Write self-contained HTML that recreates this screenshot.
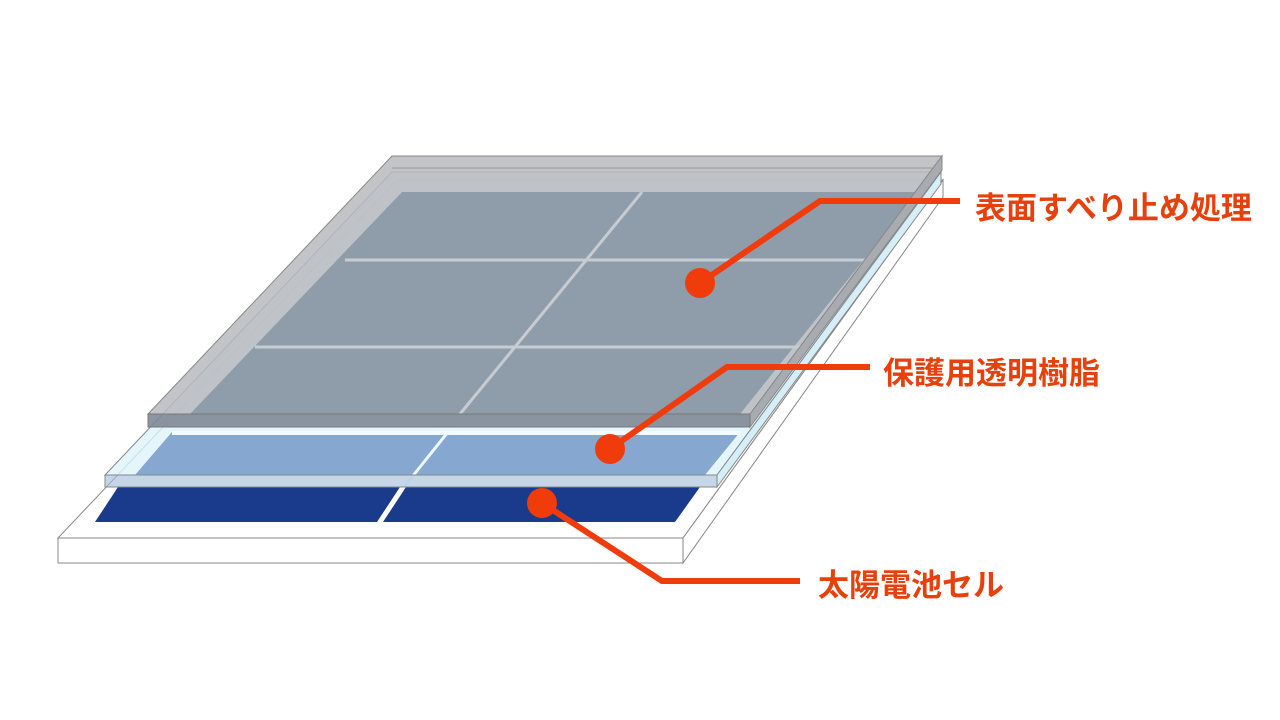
<!DOCTYPE html>
<html><head><meta charset="utf-8"><style>
body{margin:0;background:#fff;width:1280px;height:720px;overflow:hidden}
svg{display:block}
text{font-family:"Liberation Sans","Noto Sans CJK JP",sans-serif;font-weight:bold;fill:#e8400c;font-size:31px}
</style></head><body>
<svg width="1280" height="720" viewBox="0 0 1280 720">
<!-- base slab -->
<polygon points="58,538 683,538 943,180 397,180" fill="#fff" stroke="#888" stroke-width="1"/>
<polygon points="683,538 683,563 943,197 943,180" fill="#fff" stroke="#888" stroke-width="1"/>
<rect x="58" y="538" width="625" height="25" fill="#fff" stroke="#888" stroke-width="1"/>
<!-- dark blue cells -->
<polygon points="95,522 377,522 400,487 118,487" fill="#1a3a8c"/>
<polygon points="383,522 675,522 700,487 406,487" fill="#1a3a8c"/>
<!-- resin layer -->
<polygon points="105,475 717,475 941,172 392,172" fill="#dff3fb" fill-opacity="0.8" stroke="#888" stroke-width="1"/>
<polygon points="717,475 717,487 941,184 941,172" fill="#d6eef8" stroke="#888" stroke-width="1"/>
<polygon points="135,475 705,475 740,432 172,432" fill="#86a7d0"/>
<rect x="172" y="431" width="568" height="4" fill="#f4fbff"/>
<line x1="448" y1="432" x2="404" y2="487" stroke="#eef8ff" stroke-width="3"/>
<rect x="105" y="475" width="612" height="12" fill="#9fbbd9" fill-opacity="0.6" stroke="#888" stroke-width="1"/>
<!-- top gray layer -->
<polygon points="148,414 750,414 942,156 392,156" fill="#b8babd" fill-opacity="0.85" stroke="#888" stroke-width="1"/>
<line x1="392" y1="168" x2="942" y2="168" stroke="#999" stroke-width="1"/>
<polygon points="190,414 740,414 918,192 402,192" fill="#8f9caa"/>
<line x1="345" y1="260" x2="870" y2="260" stroke="#c6ccd2" stroke-width="3"/>
<line x1="255" y1="347" x2="805" y2="347" stroke="#c6ccd2" stroke-width="3"/>
<line x1="642" y1="192" x2="460" y2="414" stroke="#c6ccd2" stroke-width="3"/>
<polygon points="750,414 750,427 942,170 942,156" fill="#a8acb0" stroke="#888" stroke-width="1"/>
<rect x="148" y="414" width="602" height="13" fill="#7f8a96" fill-opacity="0.9" stroke="#777" stroke-width="1"/>
<!-- callouts -->
<g stroke="#f03c0a" stroke-width="6" fill="none">
<polyline points="700,283 820,201 960,201"/>
<polyline points="610,449 727,367 870,367"/>
<polyline points="542,503 662,581 800,581"/>
</g>
<g fill="#f03c0a">
<circle cx="700" cy="283" r="15"/>
<circle cx="610" cy="449" r="15"/>
<circle cx="542" cy="503" r="15"/>
</g>
<text x="975" y="219">表面すべり止め処理</text>
<text x="883" y="384">保護用透明樹脂</text>
<text x="818" y="596">太陽電池セル</text>
</svg>
</body></html>
